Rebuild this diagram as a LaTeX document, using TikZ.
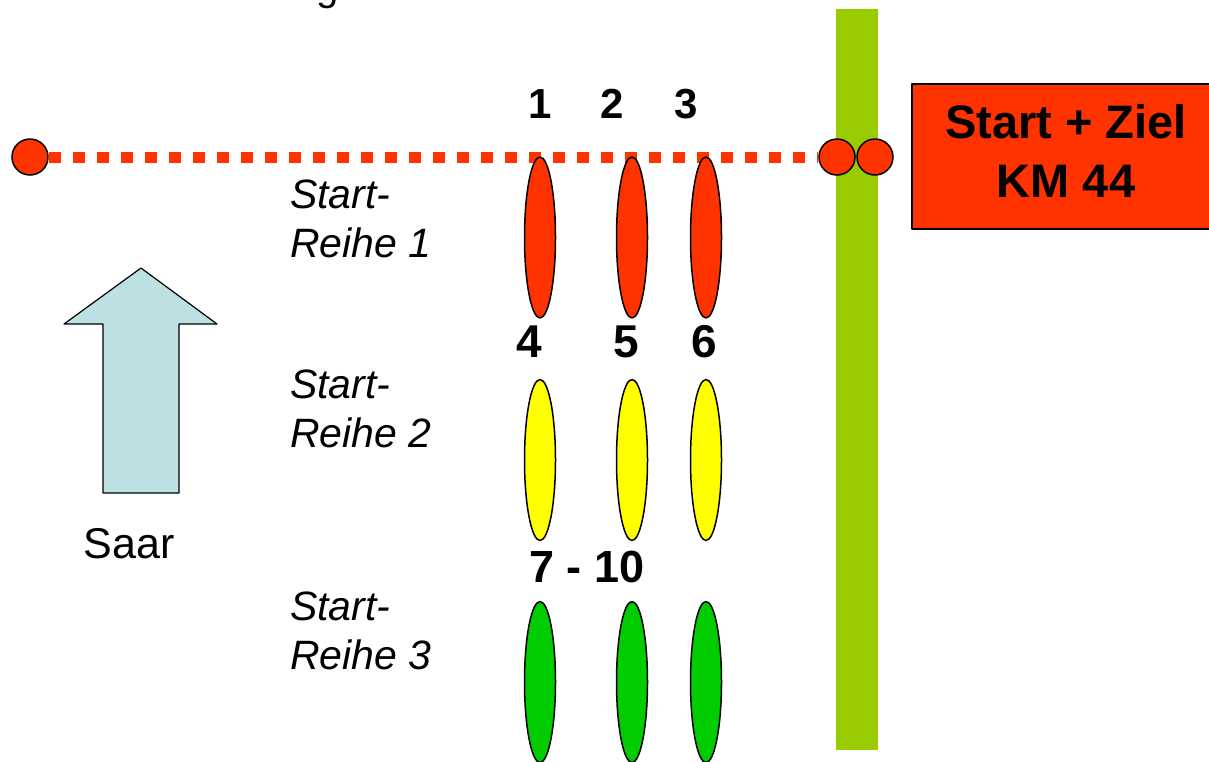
\documentclass[tikz,border=0pt]{standalone}
\usepackage{fontspec}
\setmainfont{Liberation Sans}
\usetikzlibrary{shapes.geometric,backgrounds}

\definecolor{startrot}{HTML}{FF3300}
\definecolor{reihegelb}{HTML}{FFFF00}
\definecolor{reihegruen}{HTML}{00CC00}
\definecolor{ufergruen}{HTML}{99CC00}
\definecolor{saarblau}{HTML}{BDE0E3}

\tikzset{
	boot/.style={ellipse,draw=black,line width=1.5pt,minimum width=31pt,minimum height=161pt,inner sep=0pt},
	boje/.style={circle,draw=black,line width=1.5pt,fill=startrot,minimum size=36pt,inner sep=0pt},
	nummer/.style={anchor=base,inner sep=0pt,font=\fontsize{42}{48}\selectfont\bfseries},
	reihe/.style={anchor=base west,inner sep=0pt,align=left,font=\fontsize{41}{49}\selectfont\itshape},
}

\begin{document}
\begin{tikzpicture}[x=1pt,y=-1pt,line join=round]
	\useasboundingbox (0,0) rectangle (1209,761);
	\clip (0,0) rectangle (1209,761);
	% titel, oben abgeschnitten
	\node[anchor=base,inner sep=0pt,font=\fontsize{40}{48}\selectfont] (titel) at (328,0) {g};
	% ufer
	\fill[ufergruen] (836,9) rectangle (878,750);
	% start + ziel
	\node[draw=black,line width=1.5pt,fill=startrot,anchor=north west,
		minimum width=309pt,minimum height=145pt] (ziel) at (911,83) {};
	\node[anchor=base,inner sep=0pt,align=center,
		font=\fontsize{47}{59}\selectfont\bfseries] (zieltext) at (1066,197) {Start + Ziel\\KM 44};
	% startlinie
	\node[boje] (bojeL) at (30,157) {};
	\node[boje] (bojeR1) at (837,157) {};
	\node[boje] (bojeR2) at (875,157) {};
	\begin{pgfonlayer}{background}
		\draw[startrot,line width=11pt,dash pattern=on 12pt off 12pt] (bojeL.east) -- (bojeR1.west);
	\end{pgfonlayer}
	% boote
	\foreach \x/\n in {540/1,632/2,706/3}{
		\node[boot,fill=startrot] (rot\n) at (\x,237.5) {};}
	\foreach \x/\n in {540/1,632/2,706/3}{
		\node[boot,fill=reihegelb] (gelb\n) at (\x,460) {};}
	\foreach \x/\n in {540/1,632/2,706/3}{
		\node[boot,fill=reihegruen] (gruen\n) at (\x,682) {};}
	% nummern
	\foreach \x/\n in {540/1,612/2,686/3}{
		\node[nummer] (nr\n) at (\x,118) {\n};}
	\foreach \x/\n in {529/4,626/5,704/6}{
		\node[nummer,font=\fontsize{46}{48}\selectfont\bfseries] (nr\n) at (\x,357) {\n};}
	\node[nummer,font=\fontsize{45}{48}\selectfont\bfseries] (nr7) at (587,582) {7 - 10};
	% startreihen
	\node[reihe] (reihe1) at (290,257) {Start-\\Reihe 1};
	\node[reihe] (reihe2) at (290,447) {Start-\\Reihe 2};
	\node[reihe] (reihe3) at (290,669) {Start-\\Reihe 3};
	% fliessrichtung
	\draw[fill=saarblau,line width=1.2pt] (141,268) -- (217,324) -- (179,324) -- (179,493)
		-- (103,493) -- (103,324) -- (64,324) -- cycle;
	\node[anchor=base,inner sep=0pt,font=\fontsize{43}{48}\selectfont] (saar) at (129,558) {Saar};
\end{tikzpicture}
\end{document}
